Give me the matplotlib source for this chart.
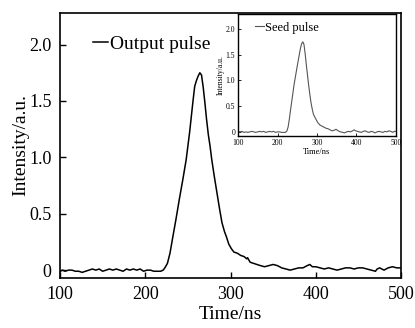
import matplotlib
matplotlib.use("Agg")
import matplotlib.pyplot as plt
from matplotlib.ticker import FuncFormatter

# output pulse (main panel)
t_out = [100, 103, 106, 110, 114, 118, 122, 126, 130, 134, 138, 142, 146, 150,
         154, 158, 162, 166, 170, 174, 178, 182, 186, 190, 194, 198, 202, 206,
         210, 214, 218, 221, 223, 226, 229, 232, 236, 240, 244, 248, 252, 256,
         258, 260, 262, 264, 266, 268, 270, 272, 274, 276, 278, 281, 284, 287,
         290, 293, 295, 298, 301, 304, 308, 312, 316, 319, 320, 323, 327, 331,
         335, 340, 345, 350, 355, 360, 365, 370, 375, 380, 385, 390, 393, 396,
         400, 405, 410, 415, 420, 425, 430, 435, 440, 445, 450, 455, 460, 465,
         470, 472, 475, 480, 485, 490, 495, 500]
v_out = [-0.01, 0.00, -0.01, 0.00, 0.00, -0.01, -0.01, -0.02, -0.01, 0.00,
         0.01, 0.00, 0.01, -0.01, 0.00, 0.01, 0.00, 0.01, 0.00, -0.01, 0.01,
         0.00, 0.01, 0.00, 0.01, -0.01, 0.00, 0.00, -0.01, -0.01, -0.01, 0.00,
         0.02, 0.06, 0.15, 0.28, 0.45, 0.63, 0.80, 0.98, 1.22, 1.50, 1.63,
         1.68, 1.72, 1.75, 1.73, 1.62, 1.48, 1.33, 1.20, 1.10, 0.98, 0.83,
         0.69, 0.55, 0.42, 0.34, 0.30, 0.23, 0.19, 0.16, 0.15, 0.13, 0.12,
         0.10, 0.11, 0.07, 0.06, 0.05, 0.04, 0.03, 0.04, 0.05, 0.04, 0.02,
         0.01, 0.00, 0.01, 0.02, 0.02, 0.04, 0.05, 0.03, 0.03, 0.02, 0.01,
         0.02, 0.01, 0.00, 0.01, 0.02, 0.02, 0.01, 0.02, 0.02, 0.01, 0.00,
         -0.01, 0.01, 0.02, 0.00, 0.02, 0.03, 0.02, 0.02]

# seed pulse (inset)
t_seed = [100, 105, 110, 115, 120, 125, 130, 135, 140, 145, 150, 155, 160,
          165, 170, 175, 180, 185, 190, 195, 200, 205, 210, 215, 220, 224,
          227, 230, 234, 238, 242, 246, 250, 254, 258, 261, 264, 267, 270,
          273, 276, 279, 282, 285, 288, 291, 295, 299, 303, 308, 313, 318,
          323, 328, 333, 338, 343, 348, 352, 356, 360, 365, 370, 375, 380,
          385, 390, 394, 398, 402, 407, 412, 417, 422, 427, 432, 437, 442,
          447, 452, 457, 462, 467, 472, 477, 482, 487, 492, 496, 500]
v_seed = [0.01, 0.00, 0.01, -0.01, 0.00, -0.01, 0.00, 0.01, 0.00, -0.01,
          0.00, 0.01, 0.00, 0.01, -0.01, 0.00, 0.01, 0.00, 0.01, -0.01, 0.00,
          0.00, -0.01, -0.01, -0.01, 0.02, 0.10, 0.25, 0.48, 0.70, 0.92,
          1.10, 1.28, 1.45, 1.62, 1.71, 1.75, 1.70, 1.52, 1.30, 1.10, 0.90,
          0.72, 0.56, 0.44, 0.34, 0.28, 0.22, 0.17, 0.13, 0.11, 0.09, 0.07,
          0.06, 0.04, 0.02, 0.03, 0.05, 0.03, 0.01, 0.00, -0.01, -0.02,
          0.00, 0.01, 0.00, 0.02, 0.04, 0.02, 0.01, 0.00, -0.01, 0.01, 0.02,
          0.00, -0.01, 0.01, 0.00, -0.02, 0.00, 0.01, 0.00, -0.01, 0.01, 0.00,
          0.02, 0.01, -0.01, 0.01, 0.01]

plt.rcParams["font.family"] = ["Liberation Serif", "DejaVu Serif"]

def fmt(v, pos):
    return "0" if abs(v) < 1e-9 else f"{v:.1f}"

fig = plt.figure(figsize=(4.15, 3.28), dpi=100)
ax = fig.add_axes([0.1446, 0.1524, 0.8217, 0.808])
ax.plot(t_out, v_out, color="black", lw=1.1, label="Output pulse")
ax.set_xlim(100, 500)
ax.set_ylim(-0.07, 2.28)
ax.set_xticks([100, 200, 300, 400, 500])
ax.set_yticks([0, 0.5, 1.0, 1.5, 2.0])
ax.yaxis.set_major_formatter(FuncFormatter(fmt))
ax.tick_params(direction="in", labelsize=13, length=4, width=1, pad=6)
for s in ax.spines.values():
    s.set_linewidth(1.2)
ax.set_xlabel("Time/ns", fontsize=14, labelpad=2)
ax.set_ylabel("Intensity/a.u.", fontsize=14, labelpad=0)
ax.legend(loc="upper left", frameon=False, fontsize=14, handlelength=0.8,
          handletextpad=0.1, borderaxespad=0.4, bbox_to_anchor=(0.05, 0.975))

ins = fig.add_axes([0.5735, 0.5854, 0.3807, 0.3719])
ins.plot(t_seed, v_seed, color="#555555", lw=0.8, label="Seed pulse")
ins.set_xlim(100, 500)
ins.set_ylim(-0.08, 2.29)
ins.set_xticks([100, 200, 300, 400, 500])
ins.set_yticks([0, 0.5, 1.0, 1.5, 2.0])
ins.yaxis.set_major_formatter(FuncFormatter(fmt))
ins.tick_params(direction="in", labelsize=5.5, length=2, width=0.6, pad=2)
for s in ins.spines.values():
    s.set_linewidth(1.0)
ins.set_xlabel("Time/ns", fontsize=6, labelpad=1)
ins.set_ylabel("Intensity/a.u.", fontsize=5.5, labelpad=1)
ins.legend(loc="upper left", frameon=False, fontsize=9, handlelength=0.7,
           handletextpad=0.1, borderaxespad=0.2, bbox_to_anchor=(0.06, 1.0))

fig.savefig("out.png", dpi=100)
